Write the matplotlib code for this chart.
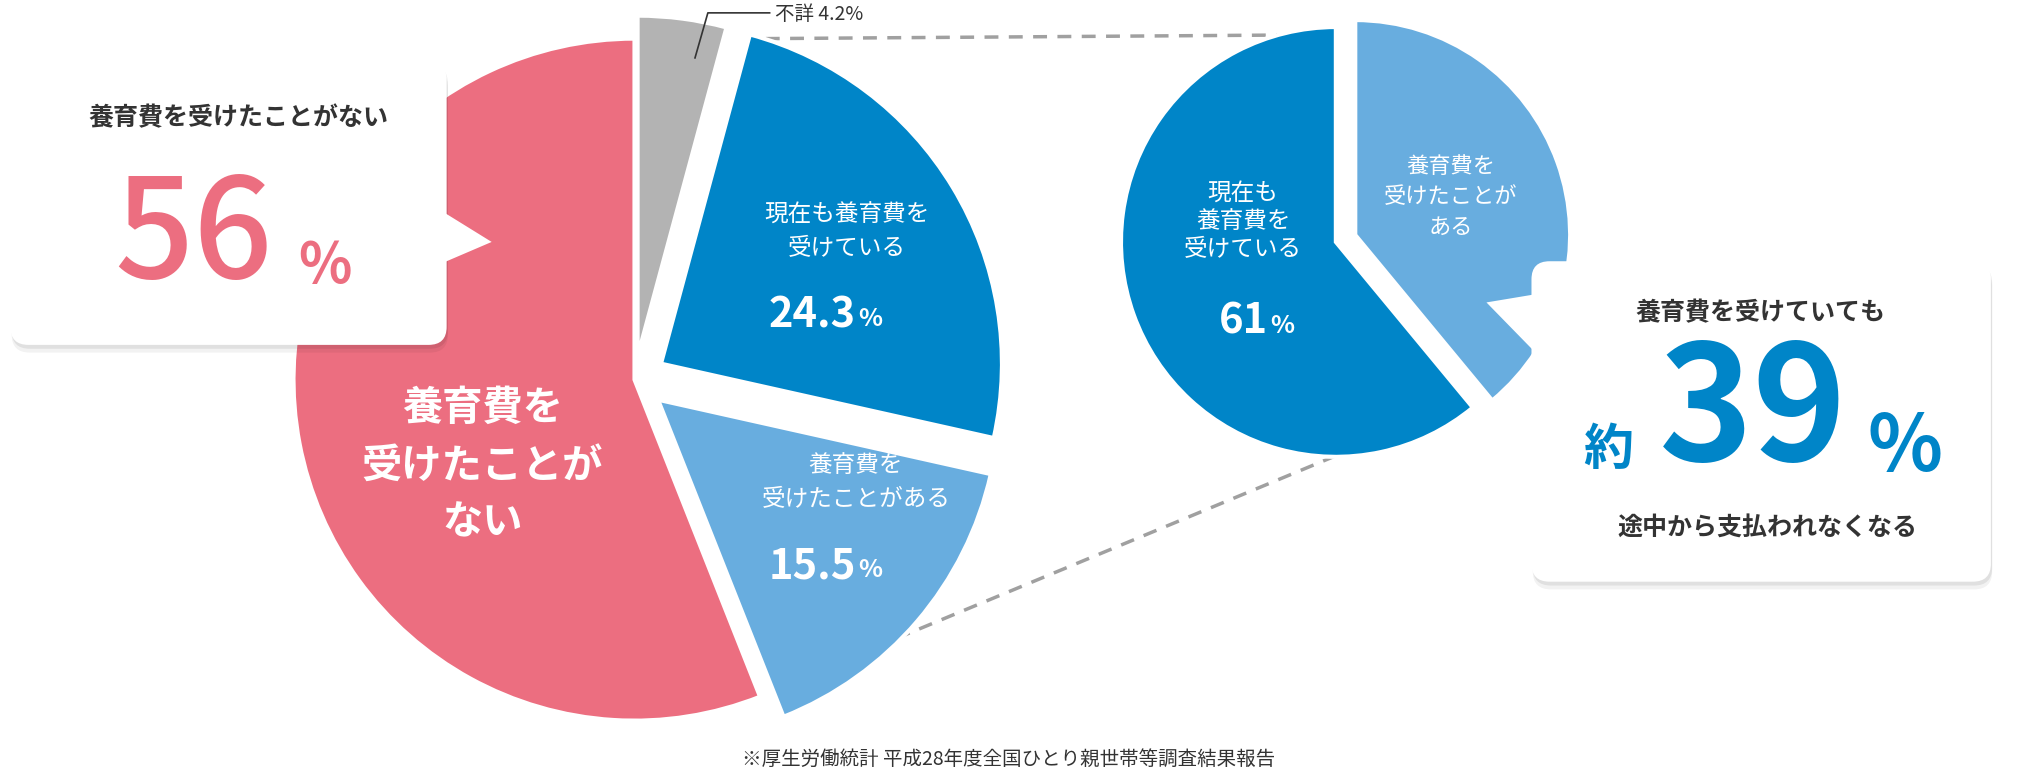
import matplotlib
matplotlib.use("Agg")
import matplotlib.pyplot as plt
from matplotlib.patches import FancyBboxPatch, Polygon

plt.rcParams['font.family'] = ['Noto Sans CJK JP', 'DejaVu Sans']

# data
main_labels = ["養育費を\n受けたことが\nない", "養育費を\n受けたことがある", "現在も養育費を\n受けている", "不詳"]
main_values = [56.0, 15.5, 24.3, 4.2]
main_colors = ["#EC6E80", "#68ADDF", "#0085C8", "#B3B3B3"]
main_explode = [0.0, 24, 24, 18]   # offsets in pixels (data units)

sub_labels = ["現在も\n養育費を\n受けている", "養育費を\n受けたことが\nある"]
sub_values = [61, 39]
sub_colors = ["#0085C8", "#68ADDF"]
sub_explode = [0.0, 16]

W, H = 1568, 603
fig = plt.figure(figsize=(20.18, 7.76), dpi=100)
ax = fig.add_axes([0, 0, 1, 1])


def Y(y):
    return H - y


ax.pie(main_values, colors=main_colors, explode=main_explode, startangle=90,
       counterclock=True, radius=265, center=(493, Y(295)), frame=True,
       wedgeprops=dict(linewidth=3, edgecolor="white"))
ax.pie(sub_values, colors=sub_colors, explode=sub_explode, startangle=90,
       counterclock=True, radius=167, center=(1038, Y(188)), frame=True,
       wedgeprops=dict(linewidth=3, edgecolor="white"))
ax.set_xlim(0, W)
ax.set_ylim(0, H)
ax.set_aspect("equal")
ax.axis("off")

# dashed connectors
ax.plot([595, 1030], [Y(30), Y(27)], ls=(0, (4, 3)), color="#A0A0A0", lw=2.5, zorder=0)
ax.plot([627, 1060], [Y(525), Y(345)], ls=(0, (4, 3)), color="#A0A0A0", lw=2.5, zorder=0)

# leader line for 不詳
ax.plot([540, 550, 598], [Y(45), Y(10), Y(10)], color="#333333", lw=1.2)
ax.text(602, Y(11), "不詳 4.2%", fontsize=14, color="#333333", va="center", ha="left")

# pie labels
ax.text(375, Y(362), main_labels[0], fontsize=29, color="white", fontweight="bold",
        ha="center", va="center", linespacing=1.5)
ax.text(665, Y(375), main_labels[1], fontsize=17, color="white", ha="center", va="center",
        linespacing=1.6)
ax.text(665, Y(440), "15.5", fontsize=30, color="white", fontweight="bold", ha="right", va="center")
ax.text(667, Y(443), "%", fontsize=18, color="white", fontweight="bold", ha="left", va="center")
ax.text(658, Y(180), main_labels[2], fontsize=17, color="white", ha="center", va="center",
        linespacing=1.6)
ax.text(665, Y(245), "24.3", fontsize=30, color="white", fontweight="bold", ha="right", va="center")
ax.text(667, Y(248), "%", fontsize=18, color="white", fontweight="bold", ha="left", va="center")

ax.text(966, Y(172), sub_labels[0], fontsize=17, color="white", ha="center", va="center",
        linespacing=1.3)
ax.text(985, Y(250), "61", fontsize=30, color="white", fontweight="bold", ha="right", va="center")
ax.text(987, Y(253), "%", fontsize=18, color="white", fontweight="bold", ha="left", va="center")
ax.text(1127, Y(153), sub_labels[1], fontsize=16, color="white", ha="center", va="center",
        linespacing=1.4)


def callout(x0, y0, x1, y1, tri):
    for d, a in [(6, 0.05), (3, 0.07)]:
        ax.add_patch(FancyBboxPatch((x0 + 1, Y(y1) - d), x1 - x0, y1 - y0,
                                    boxstyle="round,pad=0,rounding_size=14",
                                    fc="black", ec="none", alpha=a, zorder=4))
    ax.add_patch(Polygon([(x, Y(y)) for x, y in tri], closed=True, fc="white",
                         ec="none", zorder=5))
    ax.add_patch(FancyBboxPatch((x0, Y(y1)), x1 - x0, y1 - y0,
                                boxstyle="round,pad=0,rounding_size=14",
                                fc="white", ec="none", zorder=5))


callout(8, 48, 347, 268, [(340, 162), (382, 188), (340, 206)])
callout(1190, 203, 1547, 452, [(1197, 228), (1155, 235), (1197, 278)])

ax.text(185, Y(92), "養育費を受けたことがない", fontsize=18, color="#333333", fontweight="bold",
        ha="center", va="center", zorder=6)
ax.text(150, Y(185), "56", fontsize=100, color="#EC6E80", fontweight="medium",
        ha="center", va="center", zorder=6)
ax.text(232, Y(207), "%", fontsize=40, color="#EC6E80", fontweight="bold",
        ha="left", va="center", zorder=6)

ax.text(1368, Y(243), "養育費を受けていても", fontsize=18, color="#333333", fontweight="bold",
        ha="center", va="center", zorder=6)
ax.text(1250, Y(350), "約", fontsize=36, color="#0085C8", fontweight="bold",
        ha="center", va="center", zorder=6)
ax.text(1362, Y(322), "39", fontsize=115, color="#0085C8", fontweight="bold",
        ha="center", va="center", zorder=6)
ax.text(1480, Y(348), "%", fontsize=56, color="#0085C8", fontweight="bold",
        ha="center", va="center", zorder=6)
ax.text(1373, Y(410), "途中から支払われなくなる", fontsize=18, color="#333333", fontweight="bold",
        ha="center", va="center", zorder=6)

ax.text(784, Y(590), "※厚生労働統計 平成28年度全国ひとり親世帯等調査結果報告", fontsize=14,
        color="#333333", ha="center", va="center")

fig.savefig("out.png", dpi=100)
